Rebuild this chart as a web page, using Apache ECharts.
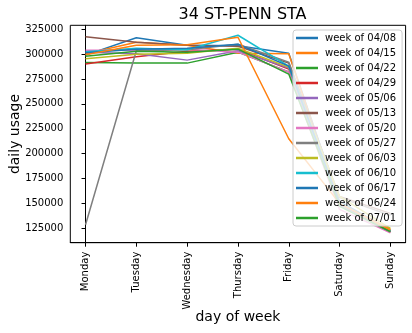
<!DOCTYPE html>
<html>
<head>
<meta charset="utf-8">
<script src="https://cdn.jsdelivr.net/npm/echarts@6/dist/echarts.min.js"></script>
<style>html,body{margin:0;padding:0;background:#fff}#c{width:412px;height:333px}</style>
</head>
<body>
<div id="c"></div>
<script>
const days = ['Monday','Tuesday','Wednesday','Thursday','Friday','Saturday','Sunday'];
const weeks = ['week of 04/08','week of 04/15','week of 04/22','week of 04/29','week of 05/06','week of 05/13','week of 05/20','week of 05/27','week of 06/03','week of 06/10','week of 06/17','week of 06/24','week of 07/01'];
const w0408 = [299000, 316500, 309000, 308500, 301000, 152000, 123000];
const w0415 = [300500, 312000, 309000, 301000, 300500, 150000, 124000];
const w0422 = [291500, 291000, 291000, 302000, 282000, 148000, 122000];
const w0429 = [290000, 297500, 303000, 305000, 285000, 150000, 121000];
const w0506 = [302000, 300500, 294000, 303500, 286000, 148000, 121500];
const w0513 = [317500, 312000, 309000, 308000, 291000, 157000, 140000];
const w0520 = [304000, 304000, 305000, 302000, 282000, 144000, 120500];
const w0527 = [128500, 303500, 304500, 310000, 292000, 156000, 138000];
const w0603 = [295500, 300000, 301000, 306000, 287000, 157000, 125000];
const w0610 = [302500, 306000, 304500, 319000, 288000, 150000, 122500];
const w0617 = [301500, 305000, 306000, 310000, 288000, 150000, 122000];
const w0624 = [299500, 309000, 309500, 317000, 215000, 150000, 123000];
const w0701 = [298000, 303000, 302000, 305000, 280000, 147000, 121500];
const yTicks = [125000, 150000, 175000, 200000, 225000, 250000, 275000, 300000, 325000];

const seriesValues = [w0408,w0415,w0422,w0429,w0506,w0513,w0520,w0527,w0603,w0610,w0617,w0624,w0701];
const colors = ['#1f77b4','#ff7f0e','#2ca02c','#d62728','#9467bd','#8c564b','#e377c2','#7f7f7f','#bcbd22','#17becf','#1f77b4','#ff7f0e','#2ca02c'];
const font = 'DejaVu Sans';

const chart = echarts.init(document.getElementById('c'), null, {renderer:'canvas'});
chart.setOption({
  animation: false,
  color: colors,
  title: {
    text: '34 ST-PENN STA', left: 237.5, top: 2, textAlign: 'center',
    textStyle: {fontFamily: font, fontSize: 16, fontWeight: 'normal', color: '#000'}
  },
  grid: {left: 70.3, right: 6.4, top: 25.3, bottom: 90.3, show: true, borderColor: '#000', borderWidth: 1, containLabel: false, outerBoundsMode: 'none'},
  legend: {
    orient: 'vertical', left: 293, top: 30, width: 108,
    data: weeks, icon: 'rect', itemWidth: 22, itemHeight: 2.5, itemGap: 3,
    padding: [2, 6, 2, 3],
    backgroundColor: 'rgba(255,255,255,0.8)', borderColor: '#cccccc', borderWidth: 1, borderRadius: 3,
    textStyle: {fontFamily: font, fontSize: 10, color: '#000', lineHeight: 12, padding: [0,0,0,2]}
  },
  xAxis: {
    type: 'value', min: -0.3, max: 6.3,
    name: 'day of week', nameLocation: 'middle', nameGap: 68, nameMoveOverlap: false,
    nameTextStyle: {fontFamily: font, fontSize: 14, color: '#000'},
    axisLine: {show: true, lineStyle: {color: '#000', width: 1}},
    axisTick: {show: true, length: 4, inside: false, customValues: [0,1,2,3,4,5,6], lineStyle: {color: '#000'}},
    axisLabel: {rotate: 90, margin: 9, fontFamily: font, fontSize: 10, color: '#000', customValues: [0,1,2,3,4,5,6],
      hideOverlap: false, formatter: v => days[Math.round(v)] || ''},
    splitLine: {show: false}
  },
  yAxis: {
    type: 'value', min: 110500, max: 329000,
    name: 'daily usage', nameLocation: 'middle', nameGap: 48, nameMoveOverlap: false,
    nameTextStyle: {fontFamily: font, fontSize: 14, color: '#000'},
    axisLine: {show: true, lineStyle: {color: '#000', width: 1}},
    axisTick: {show: true, length: 4, inside: false, customValues: yTicks, lineStyle: {color: '#000'}},
    axisLabel: {margin: 7, fontFamily: font, fontSize: 10, color: '#000', customValues: yTicks,
      formatter: v => String(v)},
    splitLine: {show: false}
  },
  series: seriesValues.map((vals, k) => ({
    name: weeks[k], type: 'line', symbol: 'none', z: 2 + k * 0.01,
    lineStyle: {width: 1.5, color: colors[k]}, itemStyle: {color: colors[k]},
    data: vals.map((v, i) => [i, v])
  }))
});
</script>
</body>
</html>
